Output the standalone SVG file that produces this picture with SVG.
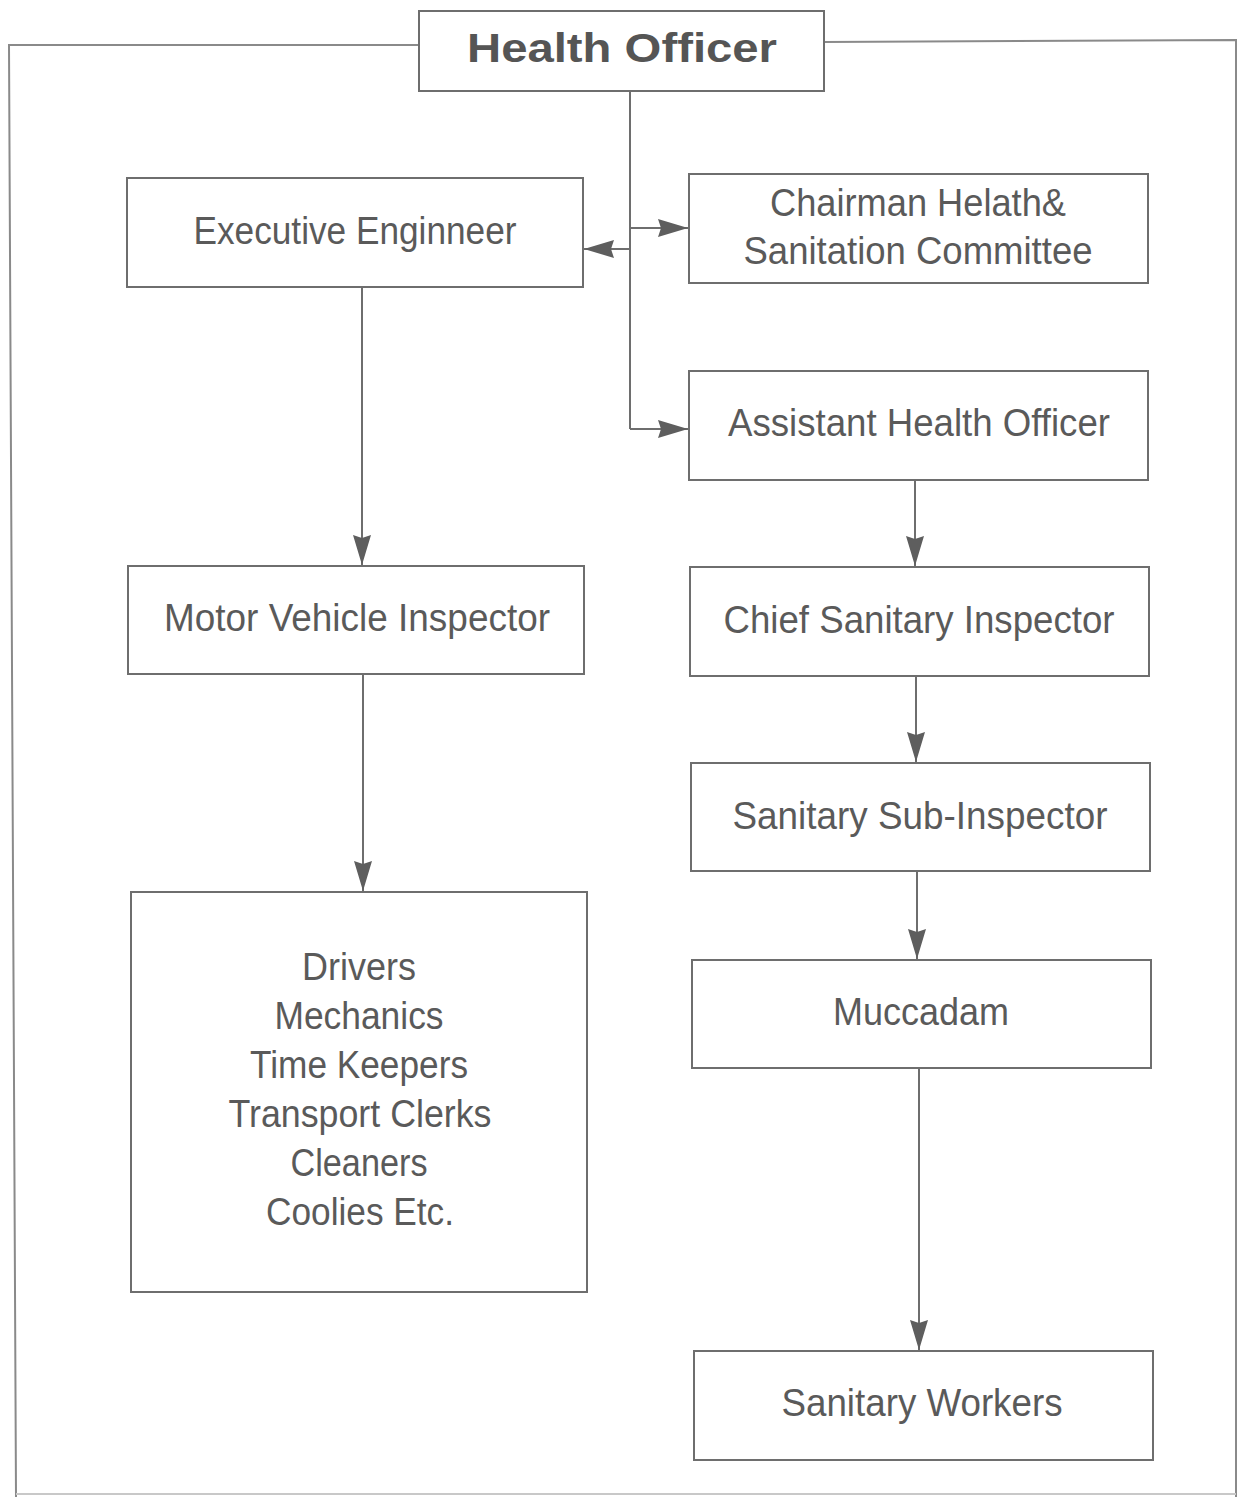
<svg xmlns="http://www.w3.org/2000/svg" width="1238" height="1497" viewBox="0 0 1238 1497">
<style>
.box{fill:#fff;stroke:#6e6e6e;stroke-width:2}
.t{font-family:"Liberation Sans Narrow","Liberation Sans",Arial,sans-serif;font-size:38px;fill:#5a5a5a;text-anchor:middle}
.h{font-family:"Liberation Sans",Arial,sans-serif;font-size:41px;font-weight:bold;fill:#555;text-anchor:middle}
.c{fill:none;stroke:#6e6e6e;stroke-width:2}
.f{fill:none;stroke:#8a8a8a;stroke-width:2}
</style>
<defs>
<marker id="arr" markerUnits="userSpaceOnUse" markerWidth="32" markerHeight="18" refX="30" refY="9" orient="auto">
<path d="M0,0 L30,9 L0,18 L3,9 Z" fill="#5e5e5e"/>
</marker>
</defs>
<rect width="1238" height="1497" fill="#fff"/>
<g id="frame">
<path class="f" d="M419,45 L9,45 L16,1497"/>
<path class="f" d="M824,42 L1236,40 L1236,1497"/>
<path d="M16,1494 L1236,1494" stroke="#c8c8c8" stroke-width="2" fill="none"/>
</g>
<g id="connectors">
<path class="c" d="M630,91 L630,429"/>
<path class="c" d="M630,228 L688,228" marker-end="url(#arr)"/>
<path class="c" d="M630,249 L584,249" marker-end="url(#arr)"/>
<path class="c" d="M630,429 L688,429" marker-end="url(#arr)"/>
<path class="c" d="M362,287 L362,565" marker-end="url(#arr)"/>
<path class="c" d="M363,674 L363,891" marker-end="url(#arr)"/>
<path class="c" d="M915,480 L915,566" marker-end="url(#arr)"/>
<path class="c" d="M916,676 L916,762" marker-end="url(#arr)"/>
<path class="c" d="M917,871 L917,959" marker-end="url(#arr)"/>
<path class="c" d="M919,1068 L919,1350" marker-end="url(#arr)"/>
</g>
<g id="health-officer">
<rect class="box" x="419" y="11" width="405" height="80"/>
<text class="h" x="622" y="62" textLength="310" lengthAdjust="spacingAndGlyphs">Health Officer</text>
</g>
<g id="executive-engineer">
<rect class="box" x="127" y="178" width="456" height="109"/>
<text class="t" x="355" y="244" textLength="323" lengthAdjust="spacingAndGlyphs">Executive Enginneer</text>
</g>
<g id="chairman">
<rect class="box" x="689" y="174" width="459" height="109"/>
<text class="t" x="918" y="216" textLength="296" lengthAdjust="spacingAndGlyphs">Chairman Helath&amp;</text>
<text class="t" x="918" y="264" textLength="349" lengthAdjust="spacingAndGlyphs">Sanitation Committee</text>
</g>
<g id="assistant-health-officer">
<rect class="box" x="689" y="371" width="459" height="109"/>
<text class="t" x="919" y="436" textLength="382" lengthAdjust="spacingAndGlyphs">Assistant Health Officer</text>
</g>
<g id="motor-vehicle-inspector">
<rect class="box" x="128" y="566" width="456" height="108"/>
<text class="t" x="357" y="631" textLength="386" lengthAdjust="spacingAndGlyphs">Motor Vehicle Inspector</text>
</g>
<g id="chief-sanitary-inspector">
<rect class="box" x="690" y="567" width="459" height="109"/>
<text class="t" x="919" y="633" textLength="391" lengthAdjust="spacingAndGlyphs">Chief Sanitary Inspector</text>
</g>
<g id="sanitary-sub-inspector">
<rect class="box" x="691" y="763" width="459" height="108"/>
<text class="t" x="920" y="829" textLength="375" lengthAdjust="spacingAndGlyphs">Sanitary Sub-Inspector</text>
</g>
<g id="muccadam">
<rect class="box" x="692" y="960" width="459" height="108"/>
<text class="t" x="921" y="1025" textLength="176" lengthAdjust="spacingAndGlyphs">Muccadam</text>
</g>
<g id="sanitary-workers">
<rect class="box" x="694" y="1351" width="459" height="109"/>
<text class="t" x="922" y="1416" textLength="281" lengthAdjust="spacingAndGlyphs">Sanitary Workers</text>
</g>
<g id="drivers-etc">
<rect class="box" x="131" y="892" width="456" height="400"/>
<text class="t" x="359" y="980" textLength="114" lengthAdjust="spacingAndGlyphs">Drivers</text>
<text class="t" x="359" y="1029" textLength="169" lengthAdjust="spacingAndGlyphs">Mechanics</text>
<text class="t" x="359" y="1078" textLength="218" lengthAdjust="spacingAndGlyphs">Time Keepers</text>
<text class="t" x="360" y="1127" textLength="263" lengthAdjust="spacingAndGlyphs">Transport Clerks</text>
<text class="t" x="359" y="1176" textLength="137" lengthAdjust="spacingAndGlyphs">Cleaners</text>
<text class="t" x="360" y="1225" textLength="188" lengthAdjust="spacingAndGlyphs">Coolies Etc.</text>
</g>
</svg>
